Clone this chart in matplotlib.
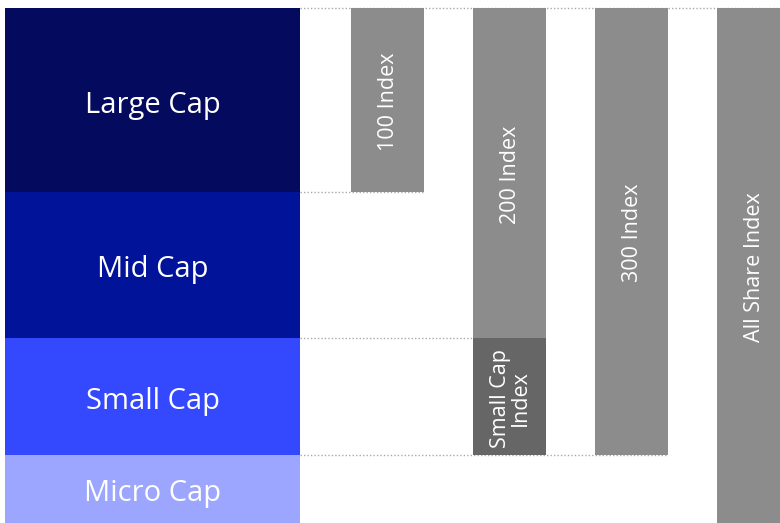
import numpy as np
import matplotlib
matplotlib.use("Agg")
import matplotlib.pyplot as plt

# market cap tiers, top to bottom, heights in chart units
tiers = ["Large Cap", "Mid Cap", "Small Cap", "Micro Cap"]
tier_size = [184, 146, 117, 68]
tier_colors = ["#040b5e", "#001399", "#3448fe", "#9ca6fe"]

# indices: label, column, first tier, last tier (inclusive)
index_labels = ["100 Index", "200 Index", "Small Cap\nIndex", "300 Index", "All Share Index"]
index_col = [0, 1, 1, 2, 3]
index_first = [0, 0, 2, 0, 0]
index_last = [0, 1, 2, 2, 3]
index_colors = ["#8c8c8c", "#8c8c8c", "#666666", "#8c8c8c", "#8c8c8c"]

plt.rcParams['font.family'] = ['Open Sans', 'DejaVu Sans']

fig = plt.figure(figsize=(7.8, 5.23), dpi=100)
ax = fig.add_axes([0, 0, 1, 1])
ax.set_xlim(0, 780)
ax.set_ylim(523, 0)
ax.axis("off")

top = 8
edges = top + np.concatenate([[0], np.cumsum(tier_size)])

# tier blocks on the left
block_x, block_w = 5, 295
for i, name in enumerate(tiers):
    ax.bar(block_x, tier_size[i], width=block_w, bottom=edges[i], align="edge",
           color=tier_colors[i], zorder=2)
    ax.text(block_x + block_w / 2, (edges[i] + edges[i + 1]) / 2 + 5, name,
            ha="center", va="center", color="white", fontsize=21, zorder=3)

# index columns
col_x0, col_step, col_w = 351, 122, 73
for lab, c, a, b, colr in zip(index_labels, index_col, index_first, index_last, index_colors):
    x = col_x0 + c * col_step
    y0, y1 = edges[a], edges[b + 1]
    ax.bar(x, y1 - y0, width=col_w, bottom=y0, align="edge", color=colr, zorder=2)
    ax.text(x + col_w / 2 + 1, (y0 + y1) / 2 + 1.5, lab, rotation=90, ha="center",
            va="center", color="white", fontsize=15.5, linespacing=0.95, zorder=3)

# dotted guide lines: from the blocks to the right edge of the last column ending there
right = block_x + block_w
dots = (0, (1, 1.5))
ax.hlines(edges[0], right, 780, colors="#aaaaaa", linestyles=dots, lw=1, zorder=1)
for k in range(1, len(tiers)):
    ends = [col_x0 + index_col[j] * col_step + col_w
            for j in range(len(index_labels)) if index_last[j] == k - 1]
    if ends:
        ax.hlines(edges[k], right, max(ends), colors="#aaaaaa", linestyles=dots,
                  lw=1, zorder=1)

fig.savefig("out.png", dpi=100)
